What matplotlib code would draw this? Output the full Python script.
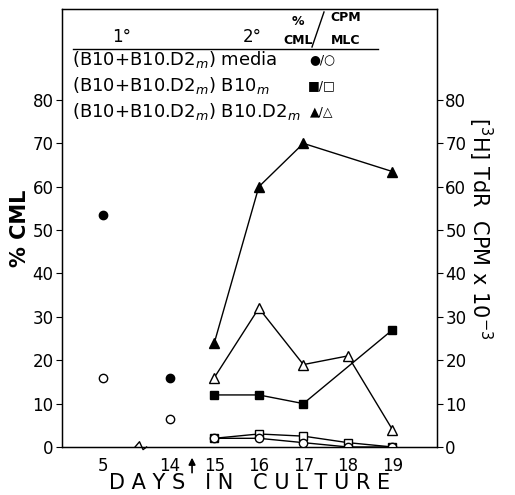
import matplotlib.pyplot as plt
import matplotlib.transforms as mtransforms
import numpy as np

# Days in culture; day 5 sits left of an axis break
days = [5, 14, 15, 16, 17, 18, 19]
day_pos = [12.5, 14, 15, 16, 17, 18, 19]
day_labels = ['5', '14', '15', '16', '17', '18', '19']

# % CML (filled) and CPM MLC x10^-3 (open); nan = no point
media_cml = [53.5, 16, np.nan, np.nan, np.nan, np.nan, np.nan]
media_cpm = [16, 6.5, 2, 2, 1, 0, 0]
b10_cml = [np.nan, np.nan, 12, 12, 10, np.nan, 27]
b10_cpm = [np.nan, np.nan, 2, 3, 2.5, 1, 0]
d2_cml = [np.nan, np.nan, 24, 60, 70, np.nan, 63.5]
d2_cpm = [np.nan, np.nan, 16, 32, 19, 21, 4]

fig = plt.figure(figsize=(5.15, 4.95), dpi=100)
ax = fig.add_axes([0.1204, 0.097, 0.7281, 0.885])

pos = np.array(day_pos)


def draw(vals, marker, filled, ms):
    v = np.array(vals, dtype=float)
    ok = ~np.isnan(v)
    # only the 2° culture days (15-19) are joined by lines
    line = ok & (pos >= 15)
    ax.plot(pos[line], v[line], '-', color='black', lw=1.0, zorder=2)
    face = 'black' if filled else 'white'
    ax.plot(pos[ok], v[ok], linestyle='none', marker=marker, ms=ms,
            mfc=face, mec='black', mew=1.0, zorder=3)


draw(d2_cml, '^', True, 6.5)
draw(d2_cpm, '^', False, 6.5)
draw(b10_cml, 's', True, 6)
draw(b10_cpm, 's', False, 6)
draw(media_cml, 'o', True, 6)
draw(media_cpm, 'o', False, 6)

ax.set_xlim(11.58, 20.0)
ax.set_ylim(0, 101)
ax.set_xticks(day_pos)
ax.set_xticklabels(day_labels, fontsize=12)
ax.tick_params(axis='x', length=0, pad=7)
ax.set_yticks(range(0, 81, 10))
ax.tick_params(axis='y', direction='out', length=4, labelsize=12, pad=2)
for s in ax.spines.values():
    s.set_linewidth(1.0)

ax2 = ax.twinx()
ax2.set_ylim(0, 101)
ax2.set_yticks(range(0, 81, 10))
ax2.tick_params(axis='y', direction='out', length=4, labelsize=12, pad=2)

ax.set_ylabel('% CML', fontsize=15, fontweight='bold', labelpad=2)
ax2.set_ylabel(r'[$^{3}$H] TdR  CPM x 10$^{-3}$', fontsize=15,
               rotation=-90, labelpad=20)
ax.set_xlabel('D A Y S   I N   C U L T U R E', fontsize=15, labelpad=-1)

# axis break on the baseline between day 5 and day 14
bt = mtransforms.blended_transform_factory(ax.transData, ax.transAxes)
ax.plot([13.22, 13.32, 13.4, 13.48], [0, 0.012, -0.006, 0],
        color='black', lw=1.0, transform=bt, clip_on=False, zorder=5)

# arrow marking the switch to 2° culture
ax.annotate('', xy=(14.5, -0.018), xytext=(14.5, -0.065), xycoords=bt,
            textcoords=bt,
            arrowprops=dict(arrowstyle='-|>', color='black', lw=1.2,
                            mutation_scale=10))

# key at the top of the plot
ft = fig.transFigure
W, H = 515, 495


def ftxt(x, y, s, **kw):
    fig.text(x / W, 1 - y / H, s, transform=ft, **kw)


ftxt(122, 42, '1°', fontsize=12, ha='center', va='baseline')
ftxt(252, 42, '2°', fontsize=12, ha='center', va='baseline')
ftxt(298, 25, '%', fontsize=9, fontweight='bold', ha='center', va='baseline')
ftxt(298, 44, 'CML', fontsize=9, fontweight='bold', ha='center', va='baseline')
ftxt(346, 21, 'CPM', fontsize=9, fontweight='bold', ha='center', va='baseline')
ftxt(346, 44, 'MLC', fontsize=9, fontweight='bold', ha='center', va='baseline')
fig.add_artist(plt.Line2D([324 / W, 312 / W], [1 - 12 / H, 1 - 47 / H],
                          transform=ft, color='black', lw=1.0))
fig.add_artist(plt.Line2D([73 / W, 378 / W], [1 - 49 / H, 1 - 49 / H],
                          transform=ft, color='black', lw=1.0))

rows = ['(B10+B10.D2$_m$) media', '(B10+B10.D2$_m$) B10$_m$',
        '(B10+B10.D2$_m$) B10.D2$_m$']
keys = ['●/○', '■/□', '▲/△']
for i, (r, k) in enumerate(zip(rows, keys)):
    y = 65 + i * 26
    ftxt(72, y, r, fontsize=13, ha='left', va='baseline')
    ftxt(322, y - 2, k, fontsize=9, ha='center', va='baseline')

fig.savefig('out.png', dpi=100)
